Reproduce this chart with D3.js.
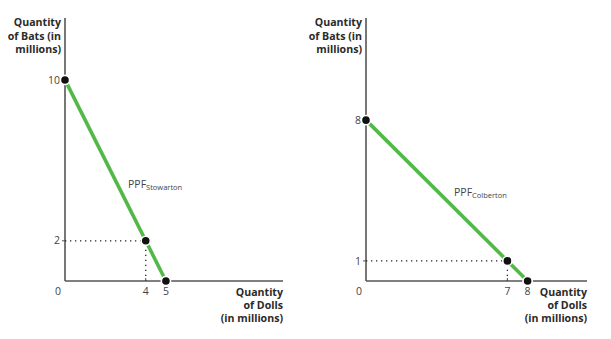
<!DOCTYPE html>
<html><head><meta charset="utf-8">
<script src="https://cdn.jsdelivr.net/npm/d3@7"></script>
<style>body{margin:0;background:#fff}text{font-family:"Open Sans",Lato,sans-serif}</style>
</head><body><svg id="c" width="611" height="339"></svg>
<script>
// Left panel: Stowarton
const stowPPF = [{dolls:0,bats:10},{dolls:5,bats:0}];
const stowPoints = [{dolls:0,bats:10},{dolls:4,bats:2},{dolls:5,bats:0}];
const stowGuide = {dolls:4,bats:2};
const stowXTicks = [0,4,5];
const stowYTicks = [2,10];
// Right panel: Colberton
const colbPPF = [{dolls:0,bats:8},{dolls:8,bats:0}];
const colbPoints = [{dolls:0,bats:8},{dolls:7,bats:1},{dolls:8,bats:0}];
const colbGuide = {dolls:7,bats:1};
const colbXTicks = [0,7,8];
const colbYTicks = [1,8];
const yTitle = ["Quantity","of Bats (in","millions)"];
const xTitle = ["Quantity","of Dolls","(in millions)"];

const svg = d3.select("#c");
const green = "#52b848", axisCol = "#555";

function panel(o){
  const g = svg.append("g");
  const x = d3.scaleLinear().domain([0,o.xMax]).range([o.x0,o.x1]);
  const y = d3.scaleLinear().domain([0,o.yMax]).range([281,18]);
  // axes
  g.append("line").attr("x1",x(0)).attr("x2",x(0)).attr("y1",y(0)).attr("y2",y(o.yMax)).attr("stroke",axisCol).attr("stroke-width",1.6);
  g.append("line").attr("x1",x(0)).attr("x2",x(o.xMax)).attr("y1",y(0)).attr("y2",y(0)).attr("stroke",axisCol).attr("stroke-width",1.6);
  // y tick labels
  o.yTicks.forEach(t=>{
    g.append("text").attr("x",x(0)-5).attr("y",y(t)).attr("dy","0.35em").attr("text-anchor","end")
      .attr("font-size",10.5).attr("fill","#444").text(t);
    g.append("line").attr("x1",x(0)-3).attr("x2",x(0)).attr("y1",y(t)).attr("y2",y(t)).attr("stroke",axisCol).attr("stroke-width",1);
  });
  o.xTicks.forEach(t=>{
    g.append("text").attr("x",t===0?x(0)-7:x(t)).attr("y",y(0)+14).attr("text-anchor","middle")
      .attr("font-size",10.5).attr("fill","#444").text(t);
  });
  // guides
  const gd = o.guide;
  g.append("line").attr("x1",x(0)).attr("x2",x(gd.dolls)).attr("y1",y(gd.bats)).attr("y2",y(gd.bats))
    .attr("stroke","#222").attr("stroke-width",1.3).attr("stroke-dasharray","1.3,3.7");
  g.append("line").attr("x1",x(gd.dolls)).attr("x2",x(gd.dolls)).attr("y1",y(0)).attr("y2",y(gd.bats))
    .attr("stroke","#222").attr("stroke-width",1.3).attr("stroke-dasharray","1.3,3.7");
  g.append("line").attr("x1",x(gd.dolls)).attr("x2",x(gd.dolls)).attr("y1",y(0)).attr("y2",y(0)-3).attr("stroke",axisCol).attr("stroke-width",1);
  // PPF line
  g.append("path").datum(o.ppf).attr("fill","none").attr("stroke",green).attr("stroke-width",3.6)
    .attr("d",d3.line().x(d=>x(d.dolls)).y(d=>y(d.bats)));
  // points
  g.selectAll("circle.p").data(o.points).join("circle").attr("cx",d=>x(d.dolls)).attr("cy",d=>y(d.bats))
    .attr("r",4.6).attr("fill","#111").attr("stroke","#fff").attr("stroke-width",1.6);
  // PPF label
  const lab = g.append("text").attr("x",o.labX).attr("y",o.labY).attr("font-size",10.5).attr("fill","#444");
  lab.append("tspan").text("PPF");
  lab.append("tspan").attr("font-size",7.5).attr("dy",2).text(o.sub);
  // axis titles
  yTitle.forEach((s,i)=>g.append("text").attr("x",x(0)-4).attr("y",26+i*13.5).attr("text-anchor","end")
    .attr("font-size",10.6).attr("font-weight","bold").attr("fill","#2a2a2a").text(s));
  xTitle.forEach((s,i)=>g.append("text").attr("x",x(o.xMax)).attr("y",296+i*13.2).attr("text-anchor","end")
    .attr("font-size",10.6).attr("font-weight","bold").attr("fill","#2a2a2a").text(s));
}
panel({x0:65,x1:283,xMax:10.8,yMax:13.08,ppf:stowPPF,points:stowPoints,guide:stowGuide,xTicks:stowXTicks,yTicks:stowYTicks,sub:"Stowarton",labX:128,labY:188});
panel({x0:366,x1:587,xMax:10.94,yMax:13.08,ppf:colbPPF,points:colbPoints,guide:colbGuide,xTicks:colbXTicks,yTicks:colbYTicks,sub:"Colberton",labX:454,labY:196});
</script></body></html>
